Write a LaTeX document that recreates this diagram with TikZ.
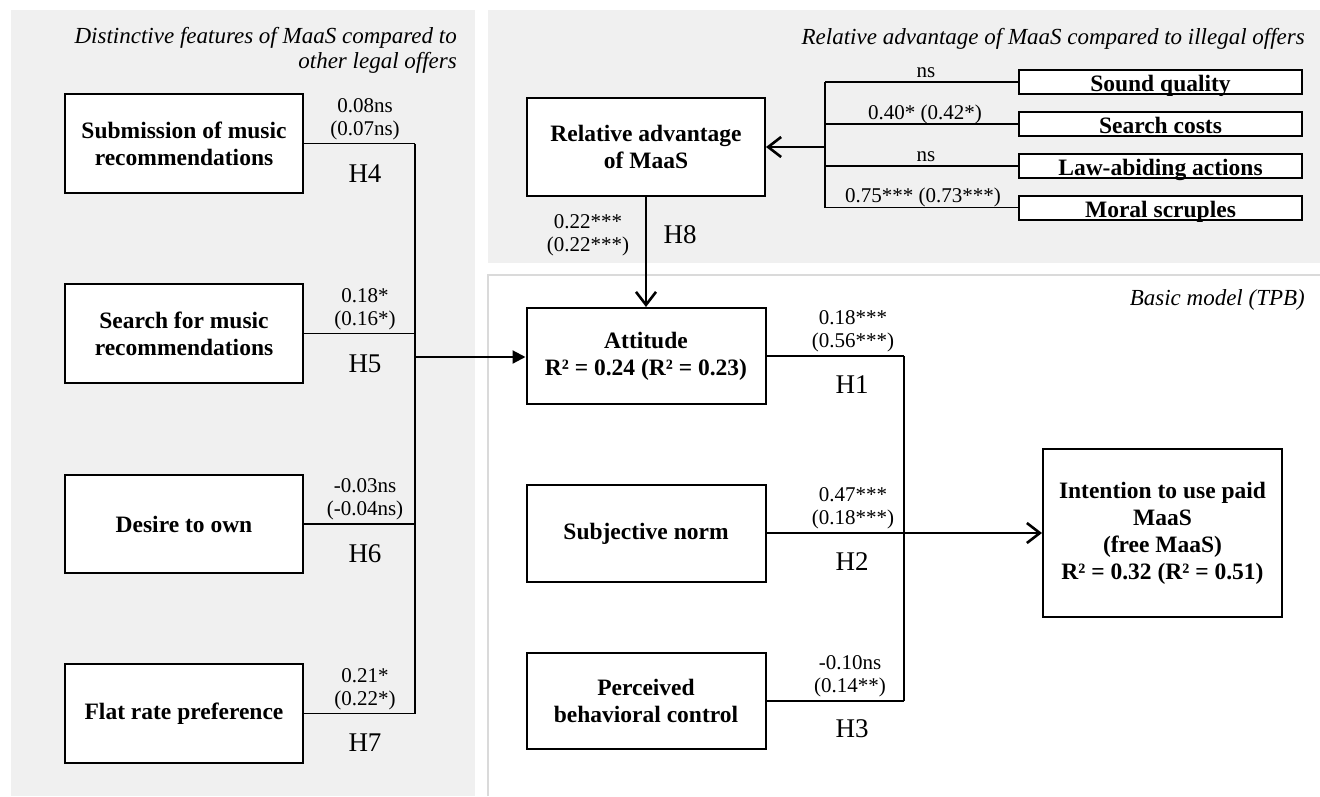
\documentclass[tikz,border=0pt]{standalone}
\usepackage{fontspec}
\setmainfont{Liberation Serif}
\usetikzlibrary{arrows.meta}
\definecolor{panelgray}{HTML}{F0F0F0}
\definecolor{panelline}{HTML}{DADADA}
\begin{document}
\begin{tikzpicture}[x=1pt,y=-1pt,
  box/.style={draw, line width=2pt, fill=white, inner sep=0pt, align=center,
    font=\fontsize{23.5}{27}\selectfont\bfseries},
  sbox/.style={draw, line width=2pt, fill=white, inner sep=0pt,
    minimum width=283, minimum height=24},
  stext/.style={inner sep=0pt, anchor=base, font=\fontsize{23.5}{27}\selectfont\bfseries},
  lab/.style={inner sep=0pt, align=center, font=\fontsize{21}{23}\selectfont},
  coef/.style={lab, anchor=south},
  hyp/.style={inner sep=0pt, anchor=base, font=\fontsize{27}{30}\selectfont},
  ttl/.style={inner sep=0pt, align=right, font=\fontsize{23}{25}\selectfont\itshape},
  conn/.style={line width=1.3pt},
  heavy/.style={line width=2.2pt},
  vee/.style={-{Straight Barb[length=13pt,width=20pt,line width=2.6pt]}},
  tri/.style={-{Triangle[length=13pt,width=13pt]}}
]
\useasboundingbox (0,0) rectangle (1320,796);
% panels
\fill[panelgray] (11,10) rectangle (475,796);
\fill[panelgray] (488,10) rectangle (1320,263);
\fill[white] (488,275) rectangle (1320,796);
\draw[panelline, line width=1.5pt] (488,796) -- (488,275) -- (1320,275);

% titles
\node[ttl, anchor=east] (t1) at (457,50) {Distinctive features of MaaS compared to\\other legal offers};
\node[ttl, anchor=east] (t2) at (1305,39) {Relative advantage of MaaS compared to illegal offers};
\node[ttl, anchor=east] (t3) at (1305,300) {Basic model (TPB)};

% left boxes
\node[box, minimum width=238, minimum height=99] (sub) at (184,143.5) {Submission of music\\recommendations};
\node[box, minimum width=238, minimum height=99] (sea) at (184,333.5) {Search for music\\recommendations};
\node[box, minimum width=238, minimum height=98] (des) at (184,524) {Desire to own};
\node[box, minimum width=238, minimum height=99] (fla) at (184,713.5) {Flat rate preference};

% TPB boxes
\node[box, minimum width=239, minimum height=96] (att) at (646,356) {Attitude\\R² = 0.24 (R² = 0.23)};
\node[box, minimum width=239, minimum height=97] (sn) at (646,533.5) {Subjective norm};
\node[box, minimum width=239, minimum height=96] (pbc) at (646,701) {Perceived\\behavioral control};
\node[box, minimum width=239, minimum height=168] (int) at (1162.5,533) {Intention to use paid\\MaaS\\(free MaaS)\\R² = 0.32 (R² = 0.51)};

% relative advantage
\node[box, minimum width=238, minimum height=98] (rel) at (646,147) {Relative advantage\\of MaaS};
\node[sbox] (sqb) at (1160.5,82) {};
\node[sbox] (scb) at (1160.5,124) {};
\node[sbox] (lab) at (1160.5,166) {};
\node[sbox] (msb) at (1160.5,207.5) {};
\node[stext] (sq) at (1160.5,91.5) {Sound quality};
\node[stext] (sc) at (1160.5,133.5) {Search costs};
\node[stext] (la) at (1160.5,175.5) {Law-abiding actions};
\node[stext] (ms) at (1160.5,217) {Moral scruples};

% left connectors
\coordinate (j4) at (415,143.5);
\coordinate (j5) at (415,333.5);
\coordinate (j6) at (415,524);
\coordinate (j7) at (415,713.5);
\coordinate (jt) at (415,357);
\draw[conn] (sub.east) -- (j4);
\draw[conn] (sea.east) -- (j5);
\draw[conn] (des.east) -- (j6);
\draw[conn] (fla.east) -- (j7);
\draw[line width=2pt] (j4) -- (j7);
\draw[heavy, tri] (jt) -- (att.west |- jt);

% TPB connectors
\coordinate (k1) at (904,356);
\coordinate (k2) at (904,533);
\coordinate (k3) at (904,701);
\draw[conn] (att.east) -- (k1);
\draw[conn] (sn.east |- k2) -- (k2);
\draw[conn] (pbc.east) -- (k3);
\draw[conn] (k1) -- (k3);
\draw[line width=2pt, vee] (k2) -- (int.west);

% relative advantage connectors
\coordinate (r1) at (825,82);
\coordinate (r2) at (825,124);
\coordinate (r3) at (825,166);
\coordinate (r4) at (825,207.5);
\coordinate (rt) at (825,147);
\draw[conn] (sqb.west) -- (r1);
\draw[conn] (scb.west) -- (r2);
\draw[conn] (lab.west) -- (r3);
\draw[conn] (msb.west) -- (r4);
\draw[conn] (r1) -- (r4);
\draw[line width=2pt, vee] (rt) -- (rel.east);
\draw[conn, vee] (rel.south) -- (att.north);

% coefficient labels (left)
\node[coef] (c4) at (365,140) {0.08ns\\(0.07ns)};
\node[coef] (c5) at (365,330) {0.18*\\(0.16*)};
\node[coef] (c6) at (365,520.5) {-0.03ns\\(-0.04ns)};
\node[coef] (c7) at (365,710) {0.21*\\(0.22*)};
\node[hyp] (h4) at (365,182) {H4};
\node[hyp] (h5) at (365,372) {H5};
\node[hyp] (h6) at (365,562) {H6};
\node[hyp] (h7) at (365,751) {H7};

% coefficient labels (TPB)
\node[coef] (c1) at (853,352.5) {0.18***\\(0.56***)};
\node[coef] (c2) at (853,529.5) {0.47***\\(0.18***)};
\node[coef] (c3) at (850,697.5) {-0.10ns\\(0.14**)};
\node[hyp] (h1) at (852,393) {H1};
\node[hyp] (h2) at (852,570) {H2};
\node[hyp] (h3) at (852,737) {H3};

% relative advantage labels
\node[lab, anchor=base] (n1) at (926,77) {ns};
\node[lab, anchor=base] (n2) at (925,119) {0.40* (0.42*)};
\node[lab, anchor=base] (n3) at (926,161) {ns};
\node[lab, anchor=base] (n4) at (923,202) {0.75*** (0.73***)};
\node[coef] (c8) at (588,256.5) {0.22***\\(0.22***)};
\node[hyp] (h8) at (680,243) {H8};
\end{tikzpicture}
\end{document}
